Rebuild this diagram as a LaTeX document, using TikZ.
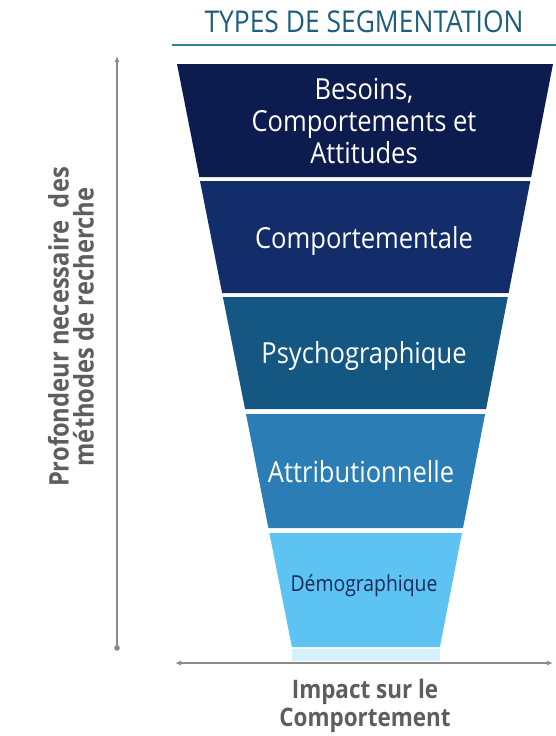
\documentclass[tikz,border=0pt]{standalone}
\usepackage{fontspec}
\setmainfont{Open Sans}[FakeStretch=0.88]
\usetikzlibrary{arrows.meta}
\definecolor{cA}{HTML}{0D1C4E}
\definecolor{cB}{HTML}{122D69}
\definecolor{cC}{HTML}{135782}
\definecolor{cD}{HTML}{2B7DB5}
\definecolor{cE}{HTML}{5CC3F2}
\definecolor{ttl}{HTML}{1E5D7C}
\definecolor{ttlline}{HTML}{3B7C97}
\definecolor{axisgray}{HTML}{8A8A8A}
\definecolor{labgray}{HTML}{5E5E5E}
\definecolor{demtxt}{HTML}{1A2A5A}
\tikzset{
  band/.style={fill=#1, draw=none},
  bandtext/.style={text=white, font=\fontsize{29}{32}\selectfont, align=center, inner sep=0pt},
  axisline/.style={draw=axisgray, line width=1.2pt},
  axislab/.style={text=labgray, font=\bfseries\fontsize{25.5}{28}\selectfont, align=center, inner sep=0pt},
}
\begin{document}
\begin{tikzpicture}[x=1pt,y=-1pt]
\useasboundingbox (0,0) rectangle (556,736);
% title
\node[text=ttl, font=\fontsize{30}{34}\selectfont, inner sep=0pt] (title) at (364,22) {TYPES DE SEGMENTATION};
\coordinate (tl) at (172,45);
\coordinate (tr) at (556,45);
\draw[draw=ttlline, line width=1.5pt] (tl) -- (tr);
% bands
\fill[band=cA] (177,64) -- (553,64) -- (531.1,177) -- (199.3,177) -- cycle;
\fill[band=cB] (200.0,181) -- (530.3,181) -- (508.6,293) -- (222.1,293) -- cycle;
\fill[band=cC] (222.9,297) -- (507.8,297) -- (486.1,409) -- (245.0,409) -- cycle;
\fill[band=cD] (246.0,414) -- (485.1,414) -- (463.0,528) -- (268.4,528) -- cycle;
\fill[band=cE] (269.4,533) -- (462.0,533) -- (439.9,647) -- (291.9,647) -- cycle;
\fill[cE!25] (292,649) rectangle (440,661);
% band labels
\node[bandtext] (b1) at (364,121) {Besoins,\\Comportements et\\Attitudes};
\node[bandtext] (b2) at (364,241) {Comportementale};
\node[bandtext] (b3) at (364,356) {Psychographique};
\node[bandtext] (b4) at (361,472) {Attributionnelle};
\node[bandtext, text=demtxt, font=\fontsize{22}{26}\selectfont] (b5) at (364,586) {Démographique};
% vertical axis
\coordinate (vtop) at (117,56);
\coordinate (vbot) at (117,648);
\draw[axisline, -{Latex[length=6pt,width=5pt]}] (vbot) -- (vtop);
\fill[axisgray] (vbot) circle (2.8pt);
\node[axislab, rotate=90, font=\bfseries\fontsize{27}{25}\selectfont] (vlab) at (71,327) {Profondeur necessaire\ \ des\\méthodes de recherche};
% horizontal axis
\coordinate (hl) at (175,663);
\coordinate (hr) at (553,663);
\draw[axisline, {Latex[length=6pt,width=5pt]}-{Latex[length=6pt,width=5pt]}] (hl) -- (hr);
\node[axislab] (hlab) at (365,706) {Impact sur le\\Comportement};
\end{tikzpicture}
\end{document}
